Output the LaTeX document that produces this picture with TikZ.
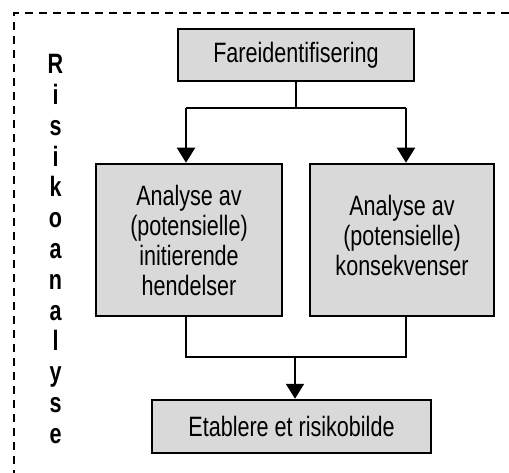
\documentclass[tikz,border=0pt]{standalone}
\usepackage{fontspec}
\setmainfont[FakeStretch=0.77]{Liberation Sans}
\usetikzlibrary{arrows.meta}
\definecolor{boxgray}{RGB}{217,217,217}
\tikzset{
  box/.style={draw=black, line width=2.5pt, fill=boxgray, align=center,
    inner sep=0pt, font=\fontsize{28}{30}\selectfont},
  link/.style={draw=black, line width=2pt},
  arrowlink/.style={link, -{Triangle[width=18pt,length=15pt]}},
  frame/.style={draw=black, line width=2pt, dash pattern=on 8pt off 6pt},
  letter/.style={font=\fontsize{28}{30}\selectfont\bfseries, anchor=base, inner sep=0pt}
}
\begin{document}
\begin{tikzpicture}[x=1pt, y=-1pt]
  \useasboundingbox (0,0) rectangle (509,473);

  % open dashed frame (top and left sides)
  \coordinate (fr) at (509,13);
  \coordinate (fc) at (14,13);
  \coordinate (fb) at (14,473);
  \draw[frame] (fr) -- (fc) -- (fb);

  % vertical side title
  \foreach \ch [count=\i from 0] in {R,i,s,i,k,o,a,n,a,l,y,s,e}
    \node[letter] (t\i) at (55.5,{74+30.75*\i}) {\ch};

  % process boxes
  \node[box, minimum width=236pt, minimum height=52pt] (fare) at (296,55) {Fareidentifisering};
  \node[box, minimum width=186pt, minimum height=152pt] (init) at (189,240)
    {Analyse av\\(potensielle)\\initierende\\hendelser};
  \node[box, minimum width=184pt, minimum height=152pt] (kons) at (402,240)
    {Analyse av\\(potensielle)\\konsekvenser\\[-20pt]};
  \node[box, minimum width=279pt, minimum height=53pt] (bilde) at (291.5,426.5) {Etablere et risikobilde};

  % split from hazard identification to the two analyses
  \coordinate (split) at (296,108);
  \coordinate (jl) at (186,108);
  \coordinate (jr) at (406,108);
  \draw[link] (fare.south) -- (split);
  \draw[link] (jl) -- (jr);
  \draw[arrowlink] (jl) -- (jl |- init.north);
  \draw[arrowlink] (jr) -- (jr |- kons.north);

  % join of the two analyses into the risk picture
  \coordinate (ml) at (186,357);
  \coordinate (mr) at (406,357);
  \coordinate (merge) at (295,357);
  \draw[link] (ml |- init.south) -- (ml) -- (mr) -- (mr |- kons.south);
  \draw[arrowlink] (merge) -- (merge |- bilde.north);
\end{tikzpicture}
\end{document}
